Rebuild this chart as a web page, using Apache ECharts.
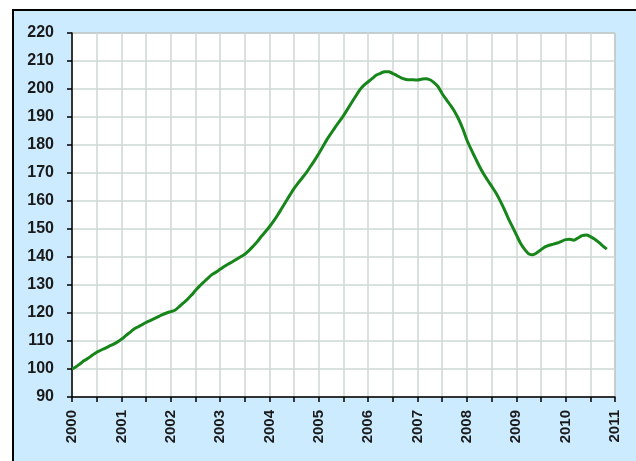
<!DOCTYPE html>
<html>
<head>
<meta charset="utf-8">
<script src="https://cdn.jsdelivr.net/npm/echarts@6/dist/echarts.min.js"></script>
<style>
  body { margin: 0; background: #fff; }
  #frame {
    position: absolute; left: 12px; top: 9px; width: 624px; height: 452px;
    border-top: 2px solid #000; border-left: 2px solid #000;
    background: #CCEBFF; box-sizing: border-box;
  }
  #chart { position: absolute; left: 0; top: 0; width: 636px; height: 461px; }
</style>
</head>
<body>
<div id="frame"></div>
<div id="chart"></div>
<script>
  // monthly index values, Jan 2000 .. Nov 2010
  const startYear = 2000;
  const values = [
    100.0, 100.8, 101.9, 103.0, 103.9, 105.0, 106.0, 106.7, 107.4, 108.1, 108.8, 109.6,
    110.6, 111.8, 113.0, 114.2, 115.0, 115.8, 116.6, 117.3, 118.0, 118.7, 119.4, 120.0,
    120.5, 121.0, 122.2, 123.5, 124.8, 126.3, 128.0, 129.6, 131.0, 132.4, 133.7, 134.6,
    135.6, 136.6, 137.5, 138.3, 139.2, 140.1, 141.0, 142.3, 143.8, 145.4, 147.3, 149.0,
    150.8, 152.8, 155.0, 157.4, 159.8, 162.2, 164.5, 166.5, 168.3, 170.2, 172.4, 174.6,
    177.0, 179.5, 182.0, 184.2, 186.4, 188.4, 190.5, 192.8, 195.2, 197.5, 199.8, 201.4,
    202.6, 203.8, 205.0, 205.6, 206.2, 206.2, 205.5, 204.8, 204.0, 203.5, 203.3, 203.3,
    203.2, 203.5, 203.7, 203.3, 202.3, 200.8, 198.3, 196.2, 194.2, 192.0, 189.2, 185.8,
    181.8, 178.5, 175.5, 172.5, 169.8, 167.5, 165.3, 163.0, 160.3, 157.3, 154.0, 151.0,
    148.0, 145.0, 142.8, 141.2, 140.8, 141.5, 142.6, 143.6, 144.2, 144.6, 145.0, 145.6,
    146.2, 146.3, 146.0, 146.8, 147.6, 147.9, 147.3, 146.4, 145.3, 144.0, 142.8
  ];
  const yearTicks = [2000, 2001, 2002, 2003, 2004, 2005, 2006, 2007, 2008, 2009, 2010, 2011];

  const points = values.map((v, i) => [startYear + i / 12, v]);

  const chart = echarts.init(document.getElementById('chart'));
  const labelFont = { fontFamily: 'Liberation Sans, Arial', fontSize: 15, fontWeight: 'bold', color: '#1a1a1a' };

  chart.setOption({
    animation: false,
    backgroundColor: 'transparent',
    grid: {
      left: 72, right: 21, top: 33, bottom: 64,
      show: true, backgroundColor: '#fff', borderColor: '#707070', borderWidth: 1
    },
    xAxis: {
      type: 'value',
      min: 2000, max: 2011, interval: 0.5,
      axisLine: { lineStyle: { color: '#000', width: 1.5 } },
      axisTick: { show: true, length: 5, lineStyle: { color: '#000', width: 1.5 } },
      splitLine: { show: true, lineStyle: { color: '#CFD7D4', width: 1.5 } },
      axisLabel: Object.assign({
        rotate: 90, margin: 13,
        formatter: v => yearTicks.includes(v) ? String(v) : ''
      }, labelFont)
    },
    yAxis: {
      type: 'value',
      min: 90, max: 220, interval: 10,
      axisLine: { show: true, lineStyle: { color: '#000', width: 1.5 } },
      axisTick: { show: true, length: 5, lineStyle: { color: '#000', width: 1.5 } },
      splitLine: { show: true, lineStyle: { color: '#CFD7D4', width: 1.5 } },
      axisLabel: Object.assign({ margin: 18 }, labelFont, { fontSize: 16 })
    },
    series: [{
      type: 'line',
      data: points,
      symbol: 'none',
      smooth: 0.3,
      lineStyle: { color: '#17861A', width: 3 }
    }]
  });
</script>
</body>
</html>
